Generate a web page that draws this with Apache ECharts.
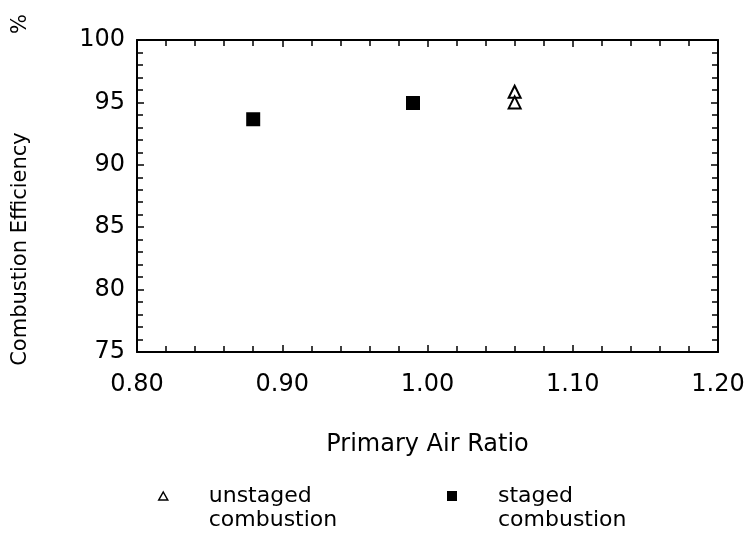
<!DOCTYPE html>
<html>
<head>
<meta charset="utf-8">
<script src="https://cdn.jsdelivr.net/npm/echarts@6/dist/echarts.min.js"></script>
<style>html,body{margin:0;padding:0;background:#fff}#c{width:751px;height:538px}</style>
</head>
<body>
<div id="c"></div>
<script>
var xTicks = ['0.80', '0.90', '1.00', '1.10', '1.20'];
var yTicks = ['75', '80', '85', '90', '95', '100'];
var unstagedX = [1.06, 1.06];
var unstagedY = [95.85, 95.0];
var stagedX = [0.88, 0.99];
var stagedY = [93.65, 94.95];
var seriesNames = ['unstaged combustion', 'staged combustion'];
var xTitle = 'Primary Air Ratio';
var yTitle = 'Combustion Efficiency';
var yUnit = '%';

var FONT = 'DejaVu Sans';
function pairs(xs, ys) { return xs.map(function (x, i) { return [x, ys[i]]; }); }
// leading blank line keeps the legend icon level with the first text line
function legendText(n) { return ' \n' + n.replace(' ', '\n'); }

var axisCommon = {
  axisLine: { show: true, onZero: false, lineStyle: { color: '#000', width: 2 } },
  axisTick: { show: true, inside: true, length: 7, lineStyle: { color: '#000', width: 1.5 } },
  minorTick: { show: true, splitNumber: 5, length: 6, lineStyle: { color: '#000', width: 1.5 } },
  splitLine: { show: false }
};

var chart = echarts.init(document.getElementById('c'), null, { renderer: 'canvas' });
chart.setOption({
  animation: false,
  backgroundColor: '#fff',
  textStyle: { fontFamily: FONT, color: '#000' },
  grid: { left: 137, right: 33, top: 40, bottom: 186 },
  xAxis: [
    Object.assign({}, axisCommon, {
      type: 'value', position: 'bottom', min: 0.8, max: 1.2, interval: 0.1,
      name: xTitle, nameLocation: 'middle', nameGap: 81,
      nameTextStyle: { fontFamily: FONT, fontSize: 24, color: '#000' },
      axisLabel: { margin: 21, fontFamily: FONT, fontSize: 24, color: '#000',
        formatter: function (v) { return xTicks[Math.round((v - 0.8) / 0.1)]; } }
    }),
    Object.assign({}, axisCommon, {
      type: 'value', position: 'top', min: 0.8, max: 1.2, interval: 0.1,
      axisLabel: { show: false }
    })
  ],
  yAxis: [
    Object.assign({}, axisCommon, {
      type: 'value', position: 'left', min: 75, max: 100, interval: 5,
      axisLabel: { margin: 12, fontFamily: FONT, fontSize: 24, color: '#000',
        formatter: function (v) { return yTicks[Math.round((v - 75) / 5)]; } }
    }),
    Object.assign({}, axisCommon, {
      type: 'value', position: 'right', min: 75, max: 100, interval: 5,
      axisLabel: { show: false }
    })
  ],
  legend: [
    {
      data: [seriesNames[0]], left: 158, top: 460, padding: 0,
      itemWidth: 9, itemHeight: 8, itemGap: 0,
      formatter: legendText,
      textStyle: { fontFamily: FONT, fontSize: 22, color: '#000', lineHeight: 24, padding: [0, 0, 0, 36] },
      itemStyle: { color: '#fff', borderColor: '#000', borderWidth: 1.5 }
    },
    {
      data: [seriesNames[1]], left: 447, top: 460, padding: 0,
      itemWidth: 10, itemHeight: 10, itemGap: 0,
      formatter: legendText,
      textStyle: { fontFamily: FONT, fontSize: 22, color: '#000', lineHeight: 24, padding: [0, 0, 0, 36] }
    }
  ],
  graphic: [
    { type: 'text', x: 21, y: 249, rotation: Math.PI / 2,
      style: { text: yTitle, font: '21px "DejaVu Sans"', fill: '#000', align: 'center', verticalAlign: 'middle' } },
    { type: 'text', x: 21, y: 24, rotation: Math.PI / 2,
      style: { text: yUnit, font: '21px "DejaVu Sans"', fill: '#000', align: 'center', verticalAlign: 'middle' } }
  ],
  series: [
    {
      name: seriesNames[0], type: 'scatter', symbol: 'triangle', symbolSize: [12, 12],
      itemStyle: { color: '#fff', borderColor: '#000', borderWidth: 2, opacity: 1 },
      data: pairs(unstagedX, unstagedY)
    },
    {
      name: seriesNames[1], type: 'scatter', symbol: 'rect', symbolSize: 14,
      itemStyle: { color: '#000', opacity: 1 },
      data: pairs(stagedX, stagedY)
    }
  ]
});
</script>
</body>
</html>
